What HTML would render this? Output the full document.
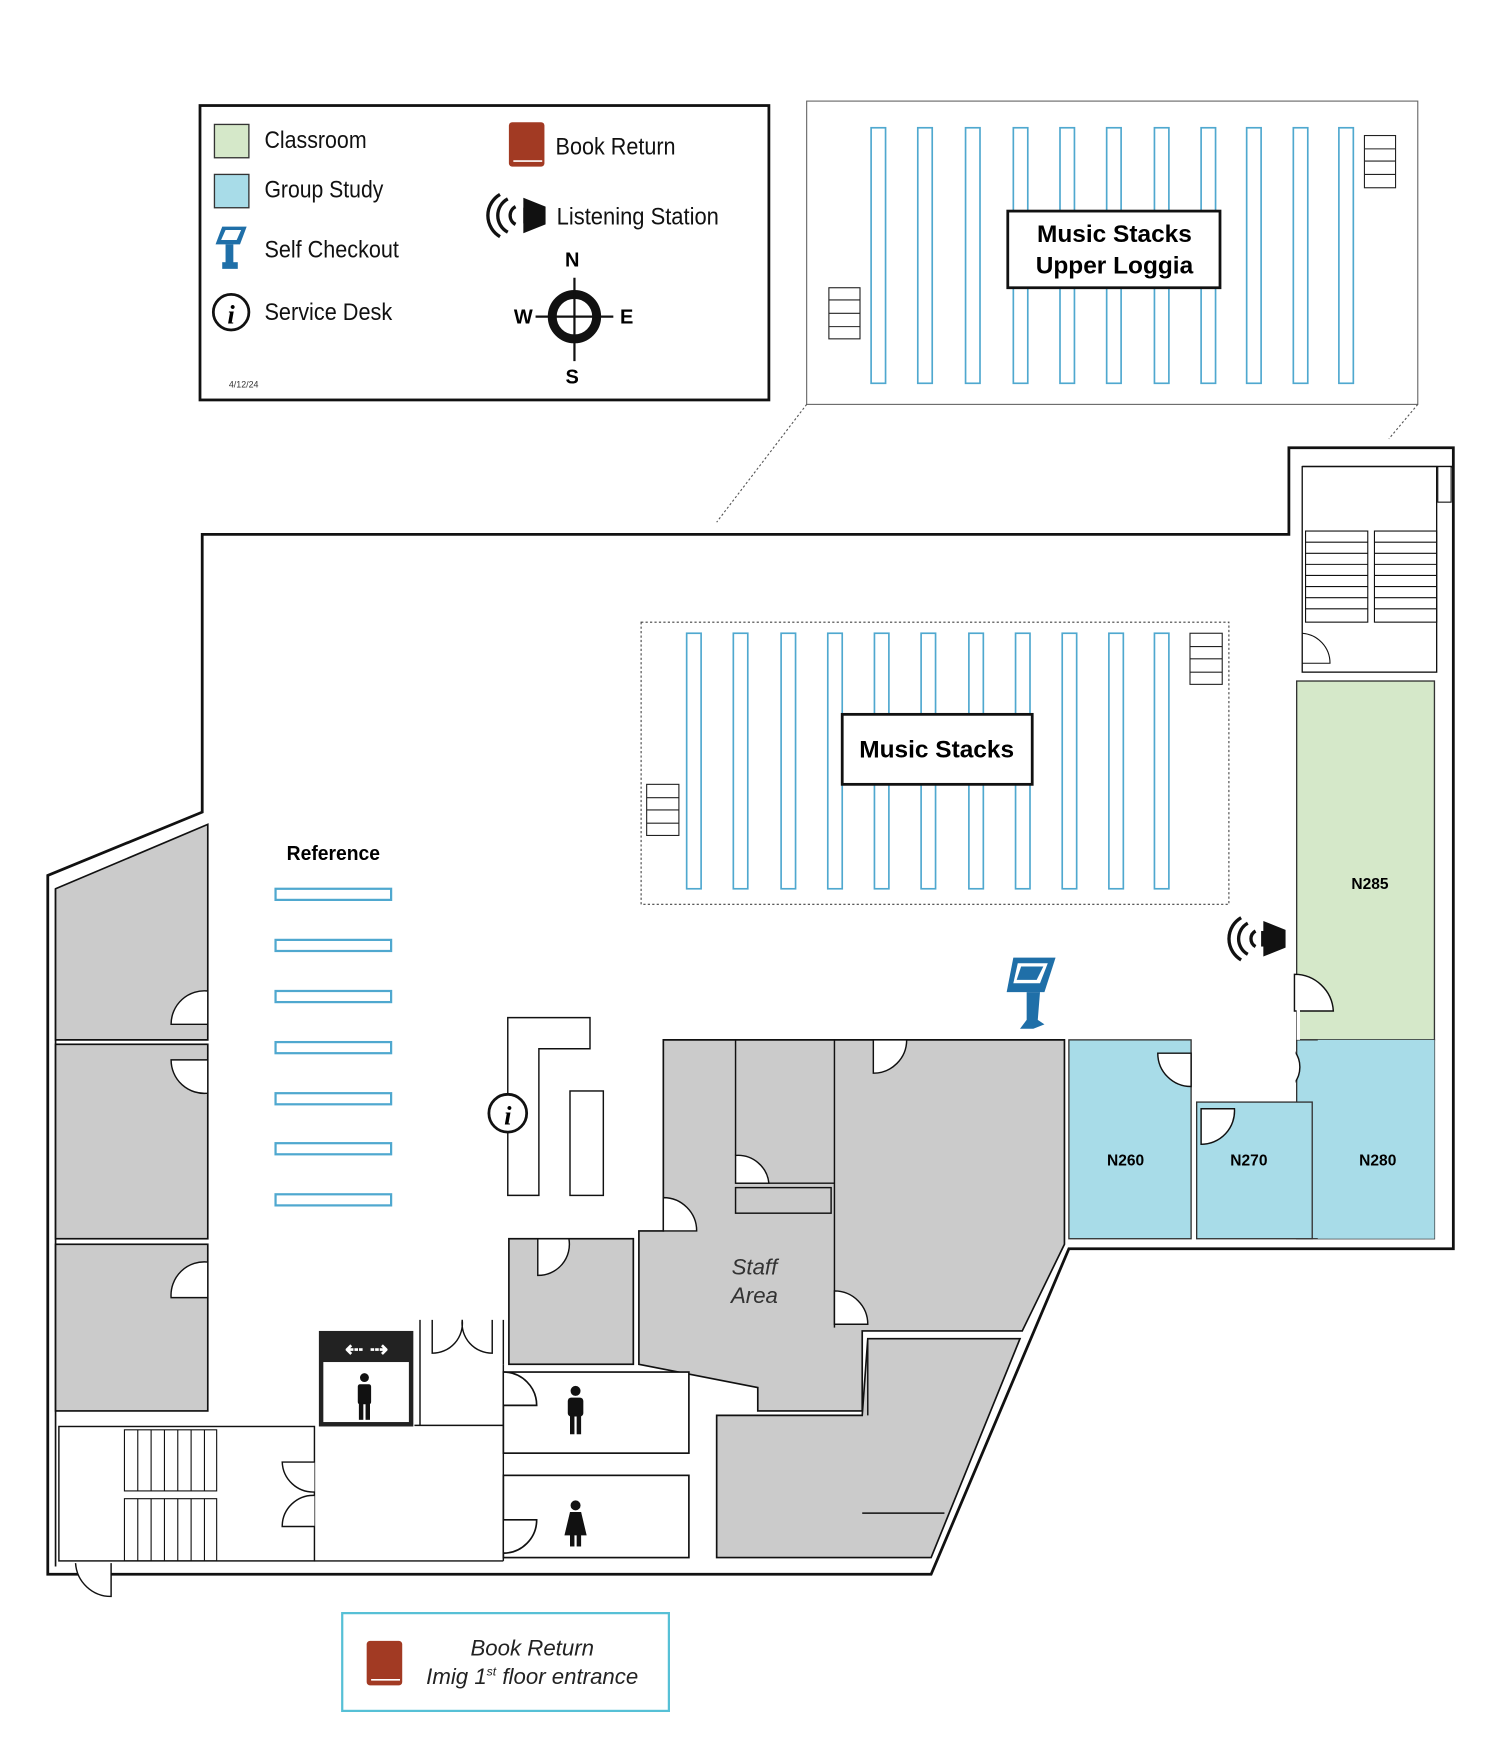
<!DOCTYPE html>
<html><head><meta charset="utf-8"><style>
html,body{margin:0;padding:0;background:#fff;}
svg{display:block}
.t{font-family:"Liberation Sans Narrow","Liberation Sans",sans-serif;}
.b{font-family:"Liberation Sans",sans-serif;font-weight:bold;}
</style></head><body>
<svg width="1500" height="1742" viewBox="0 0 1350 1568" preserveAspectRatio="none" xmlns="http://www.w3.org/2000/svg">
<rect width="1350" height="1568" fill="#fff"/>

<!-- Legend -->
<rect x="180" y="95" width="512" height="265" fill="#fff" stroke="#111" stroke-width="2.5"/>
<rect x="193" y="112" width="31" height="30" fill="#d5e8c9" stroke="#333" stroke-width="1.2"/>
<rect x="193" y="157" width="31" height="30" fill="#a8dce8" stroke="#333" stroke-width="1.2"/>
<text class="t" x="238" y="133" font-size="22" fill="#111" textLength="92" lengthAdjust="spacingAndGlyphs">Classroom</text>
<text class="t" x="238" y="178" font-size="22" fill="#111" textLength="107" lengthAdjust="spacingAndGlyphs">Group Study</text>
<text class="t" x="238" y="232" font-size="22" fill="#111" textLength="121" lengthAdjust="spacingAndGlyphs">Self Checkout</text>
<text class="t" x="238" y="288" font-size="22" fill="#111" textLength="115" lengthAdjust="spacingAndGlyphs">Service Desk</text>
<text class="t" x="500" y="139" font-size="22" fill="#111" textLength="108" lengthAdjust="spacingAndGlyphs">Book Return</text>
<text class="t" x="501" y="202" font-size="22" fill="#111" textLength="146" lengthAdjust="spacingAndGlyphs">Listening Station</text>
<text x="206" y="349" font-size="8" font-family="Liberation Sans,sans-serif" fill="#333">4/12/24</text>
<g fill="#1f6fa8">
<polygon points="200,204 222,204 216,220 194,220"/>
<rect x="203" y="220" width="7" height="18"/>
<rect x="200" y="236" width="14" height="6"/>
</g>
<polygon points="203,207 217,207 213,216 199,216" fill="#fff"/>
<circle cx="208" cy="281" r="16" fill="#fff" stroke="#111" stroke-width="2.5"/>
<text x="208" y="291" text-anchor="middle" font-family="Liberation Serif,serif" font-style="italic" font-weight="bold" font-size="24">i</text>
<rect x="458" y="110" width="32" height="40" rx="3" fill="#a23a23"/>
<line x1="462" y1="145" x2="488" y2="145" stroke="#fff" stroke-width="1.5"/>
<g transform="translate(467,194)">
<rect x="4" y="-7" width="6" height="14"/><polygon points="4,-16 24,-8 24,8 4,16" fill="#111"/>
<path d="M-3,-8 A9,9 0 0 0 -3,8" fill="none" stroke="#111" stroke-width="3"/>
<path d="M-10,-15 A17,17 0 0 0 -10,15" fill="none" stroke="#111" stroke-width="3"/>
<path d="M-17,-19 A22,22 0 0 0 -17,19" fill="none" stroke="#111" stroke-width="3"/>
</g>
<g transform="translate(517,285)">
<circle r="20" fill="none" stroke="#111" stroke-width="8"/>
<line x1="0" y1="-35" x2="0" y2="40" stroke="#111" stroke-width="2"/>
<line x1="-35" y1="0" x2="35" y2="0" stroke="#111" stroke-width="2"/>
<text x="-2" y="-45" text-anchor="middle" class="b" font-size="18">N</text>
<text x="-2" y="60" text-anchor="middle" class="b" font-size="18">S</text>
<text x="-46" y="6" text-anchor="middle" class="b" font-size="18">W</text>
<text x="47" y="6" text-anchor="middle" class="b" font-size="18">E</text>
</g>

<!-- Upper loggia -->
<rect x="726" y="91" width="550" height="273" fill="#fff" stroke="#666" stroke-width="1"/>
<g fill="none" stroke="#4fa8cf" stroke-width="1.5">
<rect x="784" y="115" width="13" height="230"/><rect x="826" y="115" width="13" height="230"/><rect x="869" y="115" width="13" height="230"/><rect x="912" y="115" width="13" height="230"/><rect x="954" y="115" width="13" height="230"/><rect x="996" y="115" width="13" height="230"/><rect x="1039" y="115" width="13" height="230"/><rect x="1081" y="115" width="13" height="230"/><rect x="1122" y="115" width="13" height="230"/><rect x="1164" y="115" width="13" height="230"/><rect x="1205" y="115" width="13" height="230"/>
</g>
<g fill="#fff" stroke="#222" stroke-width="1">
<rect x="746" y="259" width="28" height="46"/><line x1="746" y1="270" x2="774" y2="270"/><line x1="746" y1="282" x2="774" y2="282"/><line x1="746" y1="294" x2="774" y2="294"/>
<rect x="1228" y="122" width="28" height="47"/><line x1="1228" y1="134" x2="1256" y2="134"/><line x1="1228" y1="145" x2="1256" y2="145"/><line x1="1228" y1="157" x2="1256" y2="157"/>
</g>
<rect x="907" y="190" width="191" height="69" fill="#fff" stroke="#111" stroke-width="2.5"/>
<text x="1003" y="218" text-anchor="middle" class="b" font-size="22">Music Stacks</text>
<text x="1003" y="246" text-anchor="middle" class="b" font-size="22">Upper Loggia</text>
<g stroke="#555" stroke-width="1" stroke-dasharray="2,2">
<line x1="726" y1="364" x2="645" y2="470"/><line x1="1276" y1="364" x2="1250" y2="395"/>
<line x1="611" y1="517" x2="577" y2="560"/><line x1="1106" y1="560" x2="1160" y2="500"/>
</g>

<!-- Outer wall -->
<path d="M182,481 L1160,481 L1160,403 L1308,403 L1308,1124 L962,1124 L838,1417 L43,1417 L43,788 L182,731 Z" fill="#fff" stroke="#111" stroke-width="2.5"/>
<path d="M50,800 L50,1410 M1172,420 L1308,420" fill="none" stroke="#111" stroke-width="1.5"/>
<rect x="1294" y="420" width="12" height="32" fill="#fff" stroke="#111" stroke-width="1"/>

<!-- Music stacks -->
<rect x="577" y="560" width="529" height="254" fill="#fff" stroke="#444" stroke-width="1" stroke-dasharray="2,2"/>
<g fill="none" stroke="#4fa8cf" stroke-width="1.5">
<rect x="618" y="570" width="13" height="230"/><rect x="660" y="570" width="13" height="230"/><rect x="703" y="570" width="13" height="230"/><rect x="745" y="570" width="13" height="230"/><rect x="787" y="570" width="13" height="230"/><rect x="829" y="570" width="13" height="230"/><rect x="872" y="570" width="13" height="230"/><rect x="914" y="570" width="13" height="230"/><rect x="956" y="570" width="13" height="230"/><rect x="998" y="570" width="13" height="230"/><rect x="1039" y="570" width="13" height="230"/>
</g>
<g fill="#fff" stroke="#222" stroke-width="1">
<rect x="1071" y="570" width="29" height="46"/><line x1="1071" y1="582" x2="1100" y2="582"/><line x1="1071" y1="593" x2="1100" y2="593"/><line x1="1071" y1="605" x2="1100" y2="605"/>
<rect x="582" y="706" width="29" height="46"/><line x1="582" y1="718" x2="611" y2="718"/><line x1="582" y1="729" x2="611" y2="729"/><line x1="582" y1="741" x2="611" y2="741"/>
</g>
<rect x="758" y="643" width="171" height="63" fill="#fff" stroke="#111" stroke-width="2.5"/>
<text x="843" y="682" text-anchor="middle" class="b" font-size="22">Music Stacks</text>

<!-- right stairs -->
<rect x="1172" y="420" width="121" height="185" fill="#fff" stroke="#111" stroke-width="1.2"/>
<g fill="none" stroke="#111" stroke-width="1">
<rect x="1175" y="478" width="56" height="82"/><rect x="1237" y="478" width="56" height="82"/>
<path d="M1175,488H1231M1175,498H1231M1175,508H1231M1175,518H1231M1175,528H1231M1175,538H1231M1175,548H1231"/>
<path d="M1237,488H1293M1237,498H1293M1237,508H1293M1237,518H1293M1237,528H1293M1237,538H1293M1237,548H1293"/>
<path d="M1172,570 A27,27 0 0 1 1197,597 L1172,597"/>
</g>

<!-- rooms right -->
<rect x="1167" y="613" width="124" height="323" fill="#d5e8c9" stroke="#333" stroke-width="1.2"/>
<rect x="1167" y="936" width="124" height="179" fill="#a8dce8" stroke="#333" stroke-width="1.2"/>
<rect x="1186" y="936" width="105" height="179" fill="#a8dce8"/>
<rect x="1077" y="992" width="104" height="123" fill="#a8dce8" stroke="#333" stroke-width="1.2"/>
<rect x="962" y="936" width="110" height="179" fill="#a8dce8" stroke="#333" stroke-width="1.2"/>
<g fill="#fff" stroke="#111" stroke-width="1.3">
<path d="M1165,877 A35,35 0 0 1 1200,910 L1165,910 Z"/>
<path d="M1165,946 A24,24 0 0 1 1165,975 Z"/>
<path d="M1072,948 L1042,948 A30,30 0 0 0 1072,978 Z"/>
<path d="M1081,1030 A30,30 0 0 0 1111,998 L1081,998 Z"/>
</g>
<rect x="1074" y="940" width="92" height="50" fill="#fff"/>
<rect x="1167" y="880" width="3" height="56" fill="#fff"/>
<text x="1233" y="800" text-anchor="middle" class="b" font-size="14">N285</text>
<text x="1013" y="1049" text-anchor="middle" class="b" font-size="14">N260</text>
<text x="1124" y="1049" text-anchor="middle" class="b" font-size="14">N270</text>
<text x="1240" y="1049" text-anchor="middle" class="b" font-size="14">N280</text>

<!-- speaker -->
<g transform="translate(1135,845)">
<polygon points="2,-16 22,-8 22,8 2,16" fill="#111"/><rect x="0" y="-7" width="8" height="14" fill="#111"/>
<path d="M-5,-7 A8,8 0 0 0 -5,7" fill="none" stroke="#111" stroke-width="3"/>
<path d="M-12,-14 A16,16 0 0 0 -12,14" fill="none" stroke="#111" stroke-width="3"/>
<path d="M-18,-19 A22,22 0 0 0 -18,19" fill="none" stroke="#111" stroke-width="3"/>
</g>
<g fill="#1f6fa8">
<polygon points="912,862 950,862 940,893 906,893"/>
<polygon points="924,893 936,893 934,918 940,922 930,926 918,926 924,918"/>
</g>
<polygon points="916,867 943,867 936,885 912,885" fill="#fff"/>
<polygon points="919,870 939,870 933,882 915,882" fill="#1f6fa8"/>

<!-- left gray rooms -->
<g fill="#cbcbcb" stroke="#111" stroke-width="1.5">
<polygon points="50,800 187,742 187,936 50,936"/>
<rect x="50" y="940" width="137" height="175"/>
<rect x="50" y="1120" width="137" height="150"/>
</g>
<g fill="#fff" stroke="#111" stroke-width="1.3">
<path d="M187,892 A30,30 0 0 0 154,922 L187,922 Z"/>
<path d="M187,984 A30,30 0 0 1 154,954 L187,954 Z"/>
<path d="M187,1136 A30,30 0 0 0 154,1168 L187,1168 Z"/>
</g>

<!-- Reference -->
<text x="300" y="774" text-anchor="middle" class="b" font-size="18" textLength="84" lengthAdjust="spacingAndGlyphs">Reference</text>
<g fill="none" stroke="#4fa8cf" stroke-width="2">
<rect x="248" y="800" width="104" height="10"/><rect x="248" y="846" width="104" height="10"/><rect x="248" y="892" width="104" height="10"/><rect x="248" y="938" width="104" height="10"/><rect x="248" y="984" width="104" height="10"/><rect x="248" y="1029" width="104" height="10"/><rect x="248" y="1075" width="104" height="10"/>
</g>

<!-- service desk -->
<g fill="#fff" stroke="#111" stroke-width="1.3">
<path d="M457,916 L531,916 L531,944 L485,944 L485,1076 L457,1076 Z"/>
<rect x="513" y="982" width="30" height="94"/>
</g>
<circle cx="457" cy="1002" r="17" fill="#fff" stroke="#111" stroke-width="2.5"/>
<text x="457" y="1012" text-anchor="middle" font-family="Liberation Serif,serif" font-style="italic" font-weight="bold" font-size="24">i</text>

<!-- staff gray -->
<g fill="#cbcbcb" stroke="#111" stroke-width="1.5">
<polygon points="597,936 958,936 958,1120 920,1198 776,1198 776,1270 682,1270 682,1249 575,1228 575,1108 597,1108"/>
<polygon points="645,1274 776,1274 781,1205 918,1205 838,1402 645,1402"/>
<rect x="458" y="1115" width="112" height="113"/>
</g>
<g fill="none" stroke="#111" stroke-width="1.3">
<path d="M662,936 V1040 M751,936 V1195 M662,1065 H751 M781,1205 V1274 M776,1362 H850"/>
<rect x="662" y="1069" width="86" height="23" fill="#cbcbcb"/>
</g>
<g fill="#fff" stroke="#111" stroke-width="1.3">
<path d="M662,1040 A28,28 0 0 1 692,1065 L662,1065 Z"/>
<path d="M597,1078 A30,30 0 0 1 627,1108 L597,1108 Z"/>
<path d="M751,1162 A30,30 0 0 1 781,1192 L751,1192 Z"/>
<path d="M786,936 L786,966 A30,30 0 0 0 816,936 Z"/>
<path d="M484,1115 L484,1148 A28,28 0 0 0 512,1115 Z"/>
</g>
<text x="679" y="1147" text-anchor="middle" font-family="Liberation Sans,sans-serif" font-style="italic" font-size="20" fill="#333">Staff</text>
<text x="679" y="1173" text-anchor="middle" font-family="Liberation Sans,sans-serif" font-style="italic" font-size="20" fill="#333">Area</text>

<!-- restrooms -->
<g fill="#fff" stroke="#111" stroke-width="1.5">
<rect x="453" y="1235" width="167" height="73"/>
<rect x="453" y="1328" width="167" height="74"/>
<path d="M453,1235 A30,30 0 0 1 483,1265 L453,1265"/>
<path d="M453,1398 A30,30 0 0 0 483,1368 L453,1368"/>
</g>
<g fill="#111">
<circle cx="518" cy="1252" r="4.5"/><rect x="511" y="1258" width="14" height="17" rx="3"/><rect x="513" y="1272" width="4" height="19"/><rect x="519" y="1272" width="4" height="19"/>
<circle cx="518" cy="1355" r="4.5"/><polygon points="513,1361 523,1361 528,1382 508,1382"/><rect x="513" y="1380" width="4" height="12"/><rect x="519" y="1380" width="4" height="12"/>
</g>

<!-- elevator -->
<rect x="287" y="1198" width="85" height="86" fill="#222"/>
<rect x="291" y="1226" width="77" height="54" fill="#fff"/>
<text x="330" y="1221" text-anchor="middle" fill="#fff" font-size="20" class="b">⇠ ⇢</text>
<g fill="#111"><circle cx="328" cy="1240" r="4"/><rect x="322" y="1246" width="12" height="18" rx="2"/><rect x="323" y="1262" width="4" height="16"/><rect x="329" y="1262" width="4" height="16"/></g>
<g fill="none" stroke="#111" stroke-width="1.3">
<path d="M378,1188 V1283 M373,1283 H453 M453,1228 V1405"/>
<path d="M389,1188 V1218 A27,27 0 0 0 416,1188 A27,27 0 0 0 443,1218 V1188 M453,1188 V1228"/>
</g>

<!-- bottom left stairs -->
<rect x="53" y="1284" width="230" height="121" fill="#fff" stroke="#111" stroke-width="1.3"/>
<line x1="283" y1="1405" x2="453" y2="1405" stroke="#111" stroke-width="1.3"/>
<g fill="none" stroke="#111" stroke-width="1">
<rect x="112" y="1287" width="83" height="55"/><rect x="112" y="1349" width="83" height="56"/>
<path d="M124,1287V1342M136,1287V1342M148,1287V1342M160,1287V1342M172,1287V1342M184,1287V1342"/>
<path d="M124,1349V1405M136,1349V1405M148,1349V1405M160,1349V1405M172,1349V1405M184,1349V1405"/>
</g>
<g fill="#fff" stroke="#111" stroke-width="1.3">
<path d="M283,1316 L254,1316 A28,28 0 0 0 283,1343"/>
<path d="M283,1374 L254,1374 A28,28 0 0 1 283,1346"/>
<path d="M68,1407 A32,32 0 0 0 100,1437 L100,1407"/>
</g>

<!-- book return box -->
<rect x="308" y="1452" width="294" height="88" fill="#fff" stroke="#56c0d6" stroke-width="2"/>
<rect x="330" y="1477" width="32" height="40" rx="3" fill="#a23a23"/>
<line x1="334" y1="1512" x2="360" y2="1512" stroke="#fff" stroke-width="1.5"/>
<text x="479" y="1490" text-anchor="middle" font-family="Liberation Sans,sans-serif" font-style="italic" font-size="20" fill="#222">Book Return</text>
<text x="479" y="1516" text-anchor="middle" font-family="Liberation Sans,sans-serif" font-style="italic" font-size="20" fill="#222">Imig 1<tspan font-size="11" dy="-8">st</tspan><tspan dy="8"> floor entrance</tspan></text>
</svg>
</body></html>
